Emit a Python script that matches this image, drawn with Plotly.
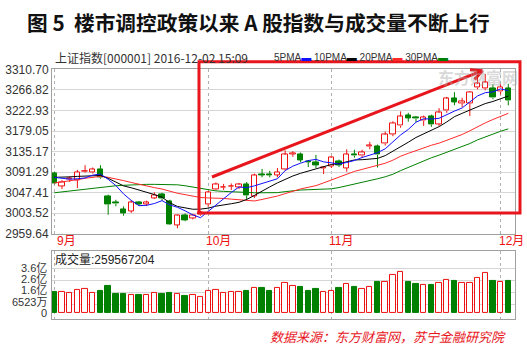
import plotly.graph_objects as go

# ---------------- data ----------------
open_ = [3088, 3061.5, 3075, 3074, 3092, 3090, 3098, 3040, 3026, 3012,
         3008, 3026, 3023, 3036, 3044, 3029, 2978, 2999, 2993, 3000,
         3022, 3054, 3058, 3060, 3059, 3064, 3040, 3087, 3086, 3085,
         3097, 3130, 3130, 3115, 3112, 3099, 3104, 3114, 3100, 3130,
         3126, 3146, 3146, 3152, 3172, 3190, 3212, 3208, 3201, 3210,
         3194, 3222, 3248, 3238, 3238, 3272, 3270, 3270, 3263, 3270]
high = [3091, 3074, 3082, 3096, 3106, 3101, 3106, 3043, 3032, 3018,
        3031, 3029, 3030, 3048, 3047, 3032, 3000, 3003, 3002, 3008,
        3051, 3069, 3066, 3067, 3068, 3070, 3088, 3098, 3094, 3100,
        3138, 3136, 3133, 3117, 3128, 3102, 3125, 3118, 3140, 3139,
        3139, 3156, 3150, 3178, 3200, 3221, 3218, 3211, 3212, 3214,
        3228, 3252, 3262, 3250, 3264, 3297, 3301, 3279, 3279, 3280]
low = [3065, 3055, 3070, 3057, 3090, 3088, 3077, 3000, 3018, 2998,
       3004, 3019, 3019, 3034, 3030, 2979, 2971, 2986, 2990, 2998,
       3017, 3052, 3053, 3053, 3055, 3032, 3036, 3080, 3080, 3080,
       3094, 3124, 3112, 3102, 3100, 3087, 3100, 3102, 3092, 3122,
       3122, 3140, 3101, 3148, 3168, 3186, 3199, 3198, 3190, 3188,
       3190, 3218, 3234, 3230, 3211, 3268, 3266, 3247, 3257, 3234]
close = [3066, 3070, 3077, 3091, 3093, 3097, 3079, 3022, 3023.5, 3003,
         3026, 3023, 3026, 3042, 3034, 2980, 2998, 2988, 2999, 3005,
         3048, 3065, 3059.5, 3061, 3064, 3041, 3084, 3085, 3084, 3091,
         3128, 3132, 3117, 3112, 3106, 3101, 3122, 3106, 3129, 3126,
         3134, 3148, 3128, 3171, 3196, 3210, 3207, 3205, 3208, 3193,
         3218, 3248, 3241, 3242, 3262, 3280, 3283, 3250, 3273, 3244]

ma5 = [3080, 3078, 3076, 3077, 3078.8, 3084.8, 3087.0, 3075.8, 3062.4, 3044.6,
       3030.6, 3019.4, 3020.2, 3024.0, 3030.2, 3021.0, 3016.0, 3008.4, 2999.6, 2993.8,
       3007.4, 3020.8, 3035.0, 3047.6, 3059.4, 3058.0, 3061.8, 3067.0, 3071.6, 3077.0,
       3094.4, 3104.0, 3110.2, 3115.8, 3118.4, 3113.0, 3111.0, 3108.4, 3111.8, 3116.0,
       3122.4, 3127.6, 3132.6, 3141.0, 3155.2, 3170.6, 3182.4, 3197.8, 3205.2, 3204.6,
       3206.2, 3214.4, 3221.6, 3228.4, 3242.2, 3254.0, 3261.0, 3262.8, 3269.0, 3265.4]
ma10 = [3080, 3080, 3081, 3082, 3083, 3084, 3084, 3078, 3070, 3061.7,
        3057.7, 3053.2, 3048.0, 3043.2, 3037.4, 3025.8, 3017.7, 3014.3, 3011.8, 3012.0,
        3014.2, 3018.4, 3021.7, 3023.6, 3026.6, 3032.7, 3041.3, 3051.0, 3059.6, 3068.2,
        3076.2, 3082.9, 3088.6, 3093.7, 3097.7, 3103.7, 3107.5, 3109.3, 3113.8, 3117.2,
        3117.7, 3119.3, 3120.5, 3126.4, 3135.6, 3146.5, 3155.0, 3165.2, 3173.1, 3179.9,
        3188.4, 3198.4, 3209.7, 3216.8, 3223.4, 3230.1, 3237.7, 3242.2, 3248.7, 3253.8]
ma20 = [3068, 3070, 3072, 3075, 3078, 3080, 3082, 3080, 3077, 3073,
        3069, 3065, 3062, 3058, 3055, 3050, 3046, 3043, 3040, 3036.9,
        3036.0, 3035.8, 3034.9, 3033.4, 3032.0, 3029.3, 3029.5, 3032.7, 3035.7, 3040.1,
        3045.2, 3050.7, 3055.2, 3058.7, 3062.2, 3068.2, 3074.4, 3080.2, 3086.7, 3092.7,
        3097.0, 3101.1, 3104.6, 3110.1, 3116.7, 3125.1, 3131.3, 3137.3, 3143.5, 3148.6,
        3153.1, 3158.9, 3165.1, 3171.6, 3179.5, 3188.3, 3196.4, 3203.7, 3210.9, 3216.9]
ma30 = [3047, 3049, 3051, 3053, 3055, 3057, 3059, 3061, 3062, 3063,
        3064, 3065, 3065, 3065, 3065, 3065, 3064, 3062, 3059, 3056,
        3053, 3051, 3050, 3049, 3048, 3047, 3047, 3047, 3047, 3047.3,
        3049.4, 3051.5, 3052.8, 3053.5, 3053.9, 3054.1, 3055.5, 3058.2, 3061.7, 3065.8,
        3069.4, 3073.5, 3076.9, 3081.2, 3086.6, 3094.3, 3101.3, 3108.5, 3115.5, 3121.8,
        3127.4, 3133.5, 3139.6, 3145.6, 3152.2, 3160.1, 3166.7, 3172.2, 3178.5, 3183.6]

# volume in 亿 (1e8 shares)
volume = [1.68, 1.68, 1.60, 1.81, 1.94, 1.63, 1.76, 2.17, 1.55, 1.55,
          1.40, 1.40, 1.42, 1.60, 1.50, 1.60, 1.50, 1.32, 1.42, 1.24,
          1.76, 1.86, 1.63, 1.71, 1.71, 1.78, 1.99, 1.99, 1.78, 1.99,
          2.43, 2.14, 2.07, 1.76, 1.89, 1.68, 1.76, 1.96, 2.30, 2.07,
          1.89, 2.07, 2.45, 2.51, 3.05, 3.26, 2.45, 2.30, 2.22, 2.22,
          2.38, 2.66, 2.53, 2.38, 2.38, 2.84, 3.20, 2.53, 2.45, 2.60]

price_ticks = [2959.64, 3003.52, 3047.41, 3091.29, 3135.17, 3179.05, 3222.93, 3266.82, 3310.70]
price_tick_text = ["2959.64", "3003.52", "3047.41", "3091.29", "3135.17", "3179.05", "3222.93", "3266.82", "3310.70"]
vol_ticks = [0, 0.6523, 1.6, 2.6, 3.6]
vol_tick_text = ["0", "6523万", "1.6亿", "2.6亿", "3.6亿"]
month_pos = [0, 20, 36, 58]
month_text = ["9月", "10月", "11月", "12月"]

title = "图\u00a05\u00a0\u00a0楼市调控政策以来\u00a0A\u00a0股指数与成交量不断上行"
subtitle = "上证指数[000001] 2016-12-02 15:09"
vol_label = "成交量:259567204"
source = "数据来源：东方财富网，苏宁金融研究院"

# ---------------- styling ----------------
W, H = 527, 353
RED = "#ee1111"
GREEN = "#008000"
BOXRED = "#e8161c"
CJK = "Noto Sans CJK SC"
NUM = "Liberation Sans, Noto Sans CJK SC"


def px(x):
    return x / W


def py(y):
    return 1 - y / H


n = len(close)
idx = list(range(n))
up = [close[i] >= open_[i] for i in idx]

fig = go.Figure()

# volume bars
for flag, fill, line in [(True, "white", RED), (False, GREEN, GREEN)]:
    xs = [i for i in idx if up[i] == flag]
    fig.add_trace(go.Bar(x=xs, y=[volume[i] for i in xs], width=0.7,
                         marker=dict(color=fill, line=dict(color=line, width=1)),
                         xaxis="x2", yaxis="y2", showlegend=False, hoverinfo="skip"))

# candle bodies
for flag, fill, line in [(True, "white", RED), (False, GREEN, GREEN)]:
    xs = [i for i in idx if up[i] == flag]
    base = [min(open_[i], close[i]) for i in xs]
    hgt = [max(abs(close[i] - open_[i]), 0.6) for i in xs]
    fig.add_trace(go.Bar(x=xs, y=hgt, base=base, width=0.7,
                         marker=dict(color=fill, line=dict(color=line, width=1)),
                         xaxis="x", yaxis="y", showlegend=False, hoverinfo="skip"))

# wicks
for flag, col in [(True, RED), (False, GREEN)]:
    wx, wy = [], []
    for i in idx:
        if up[i] != flag:
            continue
        top = max(open_[i], close[i])
        bot = min(open_[i], close[i])
        wx += [i, i, None, i, i, None]
        wy += [top, high[i], None, low[i], bot, None]
    fig.add_trace(go.Scatter(x=wx, y=wy, mode="lines", line=dict(color=col, width=1),
                             xaxis="x", yaxis="y", showlegend=False, hoverinfo="skip"))

# moving averages
for vals, col in [(ma30, "#008000"), (ma20, "#ff2a2a"), (ma10, "#000000"), (ma5, "#1010ff")]:
    fig.add_trace(go.Scatter(x=idx, y=vals, mode="lines", line=dict(color=col, width=1),
                             xaxis="x", yaxis="y", showlegend=False, hoverinfo="skip"))

xdom = [px(52), px(515)]
xr = [-0.3, 59.87]
grid_dash = "3px,3px"

fig.update_layout(
    width=W, height=H, autosize=False,
    margin=dict(l=0, r=0, t=0, b=0, pad=0),
    paper_bgcolor="white", plot_bgcolor="white",
    bargap=0, barmode="overlay",
    xaxis=dict(domain=xdom, range=xr, anchor="y", tickvals=month_pos, showticklabels=False,
               showgrid=True, gridcolor="#b0b0b0", griddash=grid_dash, gridwidth=1,
               zeroline=False, showline=True, linecolor="#a0a0a0", mirror=True, ticks=""),
    yaxis=dict(domain=[py(236), py(65)], range=[price_ticks[0], price_ticks[-1]], anchor="x",
               tickvals=price_ticks, ticktext=price_tick_text, showgrid=True, gridcolor="#d6d6d6",
               zeroline=False, showline=True, linecolor="#a0a0a0", mirror=True, ticks="",
               tickfont=dict(family=NUM, size=12, color="#333333")),
    xaxis2=dict(domain=xdom, range=xr, anchor="y2", tickvals=month_pos, showticklabels=False,
                showgrid=True, gridcolor="#b0b0b0", griddash=grid_dash, gridwidth=1,
                zeroline=False, showline=True, linecolor="#a0a0a0", mirror=True, ticks=""),
    yaxis2=dict(domain=[py(325), py(254)], range=[-0.52, 4.98], anchor="x2",
                tickvals=vol_ticks[1:], showticklabels=False, showgrid=True, gridcolor="#d6d6d6",
                zeroline=False, showline=True, linecolor="#a0a0a0", mirror=True, ticks=""),
)

ann = []
ann.append(dict(text=title, x=px(258), y=py(16), xref="paper", yref="paper", showarrow=False,
                xanchor="center", yanchor="middle",
                font=dict(family=CJK, size=20.7, color="#111111", weight="bold")))
ann.append(dict(text=subtitle, x=px(53), y=py(53), xref="paper", yref="paper", showarrow=False,
                xanchor="left", yanchor="middle", font=dict(family=CJK, size=12, color="#333333")))
legend_txt = ("5PMA<span style='color:#1010ff'>▬</span> 10PMA<span style='color:#000000'>▬</span> "
              "20PMA<span style='color:#ff2a2a'>▬</span> 30PMA<span style='color:#008000'>▬</span>")
ann.append(dict(text=legend_txt, x=px(272), y=py(53), xref="paper", yref="paper", showarrow=False,
                xanchor="left", yanchor="middle", font=dict(family=NUM, size=10, color="#333333")))
ann.append(dict(text="东方财富网", x=px(478), y=py(73), xref="paper", yref="paper", showarrow=False,
                xanchor="center", yanchor="middle",
                font=dict(family=CJK, size=16, color="rgba(170,170,170,0.45)", weight="bold")))
# month labels
for pos, txt in zip(month_pos, month_text):
    shift = 1 if pos == 0 else -4
    ann.append(dict(text=txt, x=pos, y=py(244), xref="x", yref="paper", showarrow=False,
                    xanchor="left", yanchor="middle", xshift=shift,
                    font=dict(family=NUM, size=12, color=RED)))
# volume panel texts
ann.append(dict(text=vol_label, x=px(53), y=py(263), xref="paper", yref="paper", showarrow=False,
                xanchor="left", yanchor="middle", font=dict(family=NUM, size=12, color="#222222")))
for yy, txt in zip([318.5, 307, 295, 283.5, 272], vol_tick_text):
    ann.append(dict(text=txt, x=px(49), y=py(yy), xref="paper", yref="paper", showarrow=False,
                    xanchor="right", yanchor="middle", font=dict(family=NUM, size=11, color="#333333")))
ann.append(dict(text=source, x=px(508), y=py(343), xref="paper", yref="paper", showarrow=False,
                xanchor="right", yanchor="middle",
                font=dict(family=CJK, size=13, color=BOXRED, style="italic")))
fig.update_layout(annotations=ann)

# red box and arrow
shapes = [
    dict(type="rect", xref="paper", yref="paper", x0=px(199), x1=px(520), y0=py(214.5), y1=py(57),
         line=dict(color=BOXRED, width=3), layer="above"),
    dict(type="line", xref="paper", yref="paper", x0=px(212), y0=py(177), x1=px(482), y1=py(66.5),
         line=dict(color=BOXRED, width=3), layer="above"),
    dict(type="line", xref="paper", yref="paper", x0=px(470), y0=py(65.3), x1=px(482.5), y1=py(66.4),
         line=dict(color=BOXRED, width=3), layer="above"),
    dict(type="line", xref="paper", yref="paper", x0=px(474.5), y0=py(75.5), x1=px(482.5), y1=py(66.4),
         line=dict(color=BOXRED, width=3), layer="above"),
]
fig.update_layout(shapes=shapes)

fig.write_html("out.html")
